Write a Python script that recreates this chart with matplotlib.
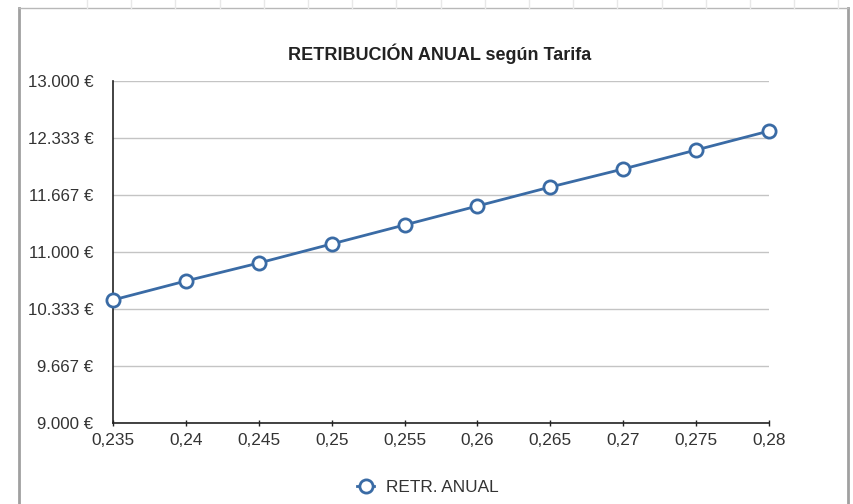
"""Retribución anual según tarifa: line chart with hollow markers."""

import matplotlib

matplotlib.use("Agg")
import matplotlib.pyplot as plt
from matplotlib.lines import Line2D
import numpy as np

tarifa = [0.235, 0.24, 0.245, 0.25, 0.255, 0.26, 0.265, 0.27, 0.275, 0.28]
tarifa_labels = ["0,235", "0,24", "0,245", "0,25", "0,255", "0,26", "0,265", "0,27", "0,275", "0,28"]
retribucion = [10439, 10661, 10871, 11094, 11316, 11538, 11760, 11971, 12193, 12415]
y_ticks = [9000, 9666.67, 10333.33, 11000, 11666.67, 12333.33, 13000]

BLUE = "#3a6ba5"
W, H = 854, 504


def euro(v):
    return f"{int(round(v)):,}".replace(",", ".") + " €"


def main() -> None:
    plt.rcParams["font.family"] = ["Liberation Sans", "DejaVu Sans"]
    fig = plt.figure(figsize=(W / 100, H / 100), dpi=100)
    ax = fig.add_axes([113 / W, 1 - 423 / H, (769 - 113) / W, 342 / H])

    ax.plot(tarifa, retribucion, color=BLUE, lw=2, marker="o", ms=9.5,
            mfc="white", mec=BLUE, mew=2, clip_on=False, zorder=3)

    ax.set_xlim(tarifa[0], tarifa[-1])
    ax.set_ylim(y_ticks[0], y_ticks[-1])
    ax.set_xticks(tarifa)
    ax.set_xticklabels(tarifa_labels)
    ax.set_yticks(y_ticks)
    ax.set_yticklabels([euro(v) for v in y_ticks])
    ax.grid(axis="y", color="#c4c4c4", lw=1)
    ax.set_axisbelow(True)
    for side in ("top", "right"):
        ax.spines[side].set_visible(False)
    for side in ("left", "bottom"):
        ax.spines[side].set_color("#222222")
        ax.spines[side].set_linewidth(1.2)
    ax.tick_params(axis="x", direction="inout", length=5, width=1, colors="#222222",
                   labelsize=12.4, pad=5, labelcolor="#333333")
    ax.tick_params(axis="y", length=0, labelsize=12.2, pad=14, labelcolor="#333333")

    fig.text(440 / W, 1 - 54 / H, "RETRIBUCIÓN ANUAL según Tarifa", ha="center",
             va="center", fontsize=13, fontweight="bold", color="#222222")

    handle = Line2D([], [], color=BLUE, lw=2, marker="o", ms=9.5, mfc="white",
                    mec=BLUE, mew=2)
    fig.legend([handle], ["RETR. ANUAL"], loc="center", bbox_to_anchor=(428 / W, 1 - 487 / H),
               frameon=False, fontsize=12.4, handlelength=1.0, handletextpad=0.7,
               labelcolor="#333333")

    # sheet frame around the chart
    fig.add_artist(Line2D([19 / W, 19 / W], [0, 1 - 8 / H], color="#a0a0a0", lw=2))
    fig.add_artist(Line2D([848 / W, 848 / W], [0, 1 - 8 / H], color="#a0a0a0", lw=2))
    fig.add_artist(Line2D([19 / W, 848 / W], [1 - 8 / H, 1 - 8 / H], color="#b8b8b8", lw=1))
    for x in np.arange(87, 848, 44.2):
        fig.add_artist(Line2D([x / W, x / W], [1 - 8 / H, 1], color="#e8e8e8", lw=1))

    fig.savefig("out.png", dpi=100, facecolor="white")


if __name__ == "__main__":
    main()
